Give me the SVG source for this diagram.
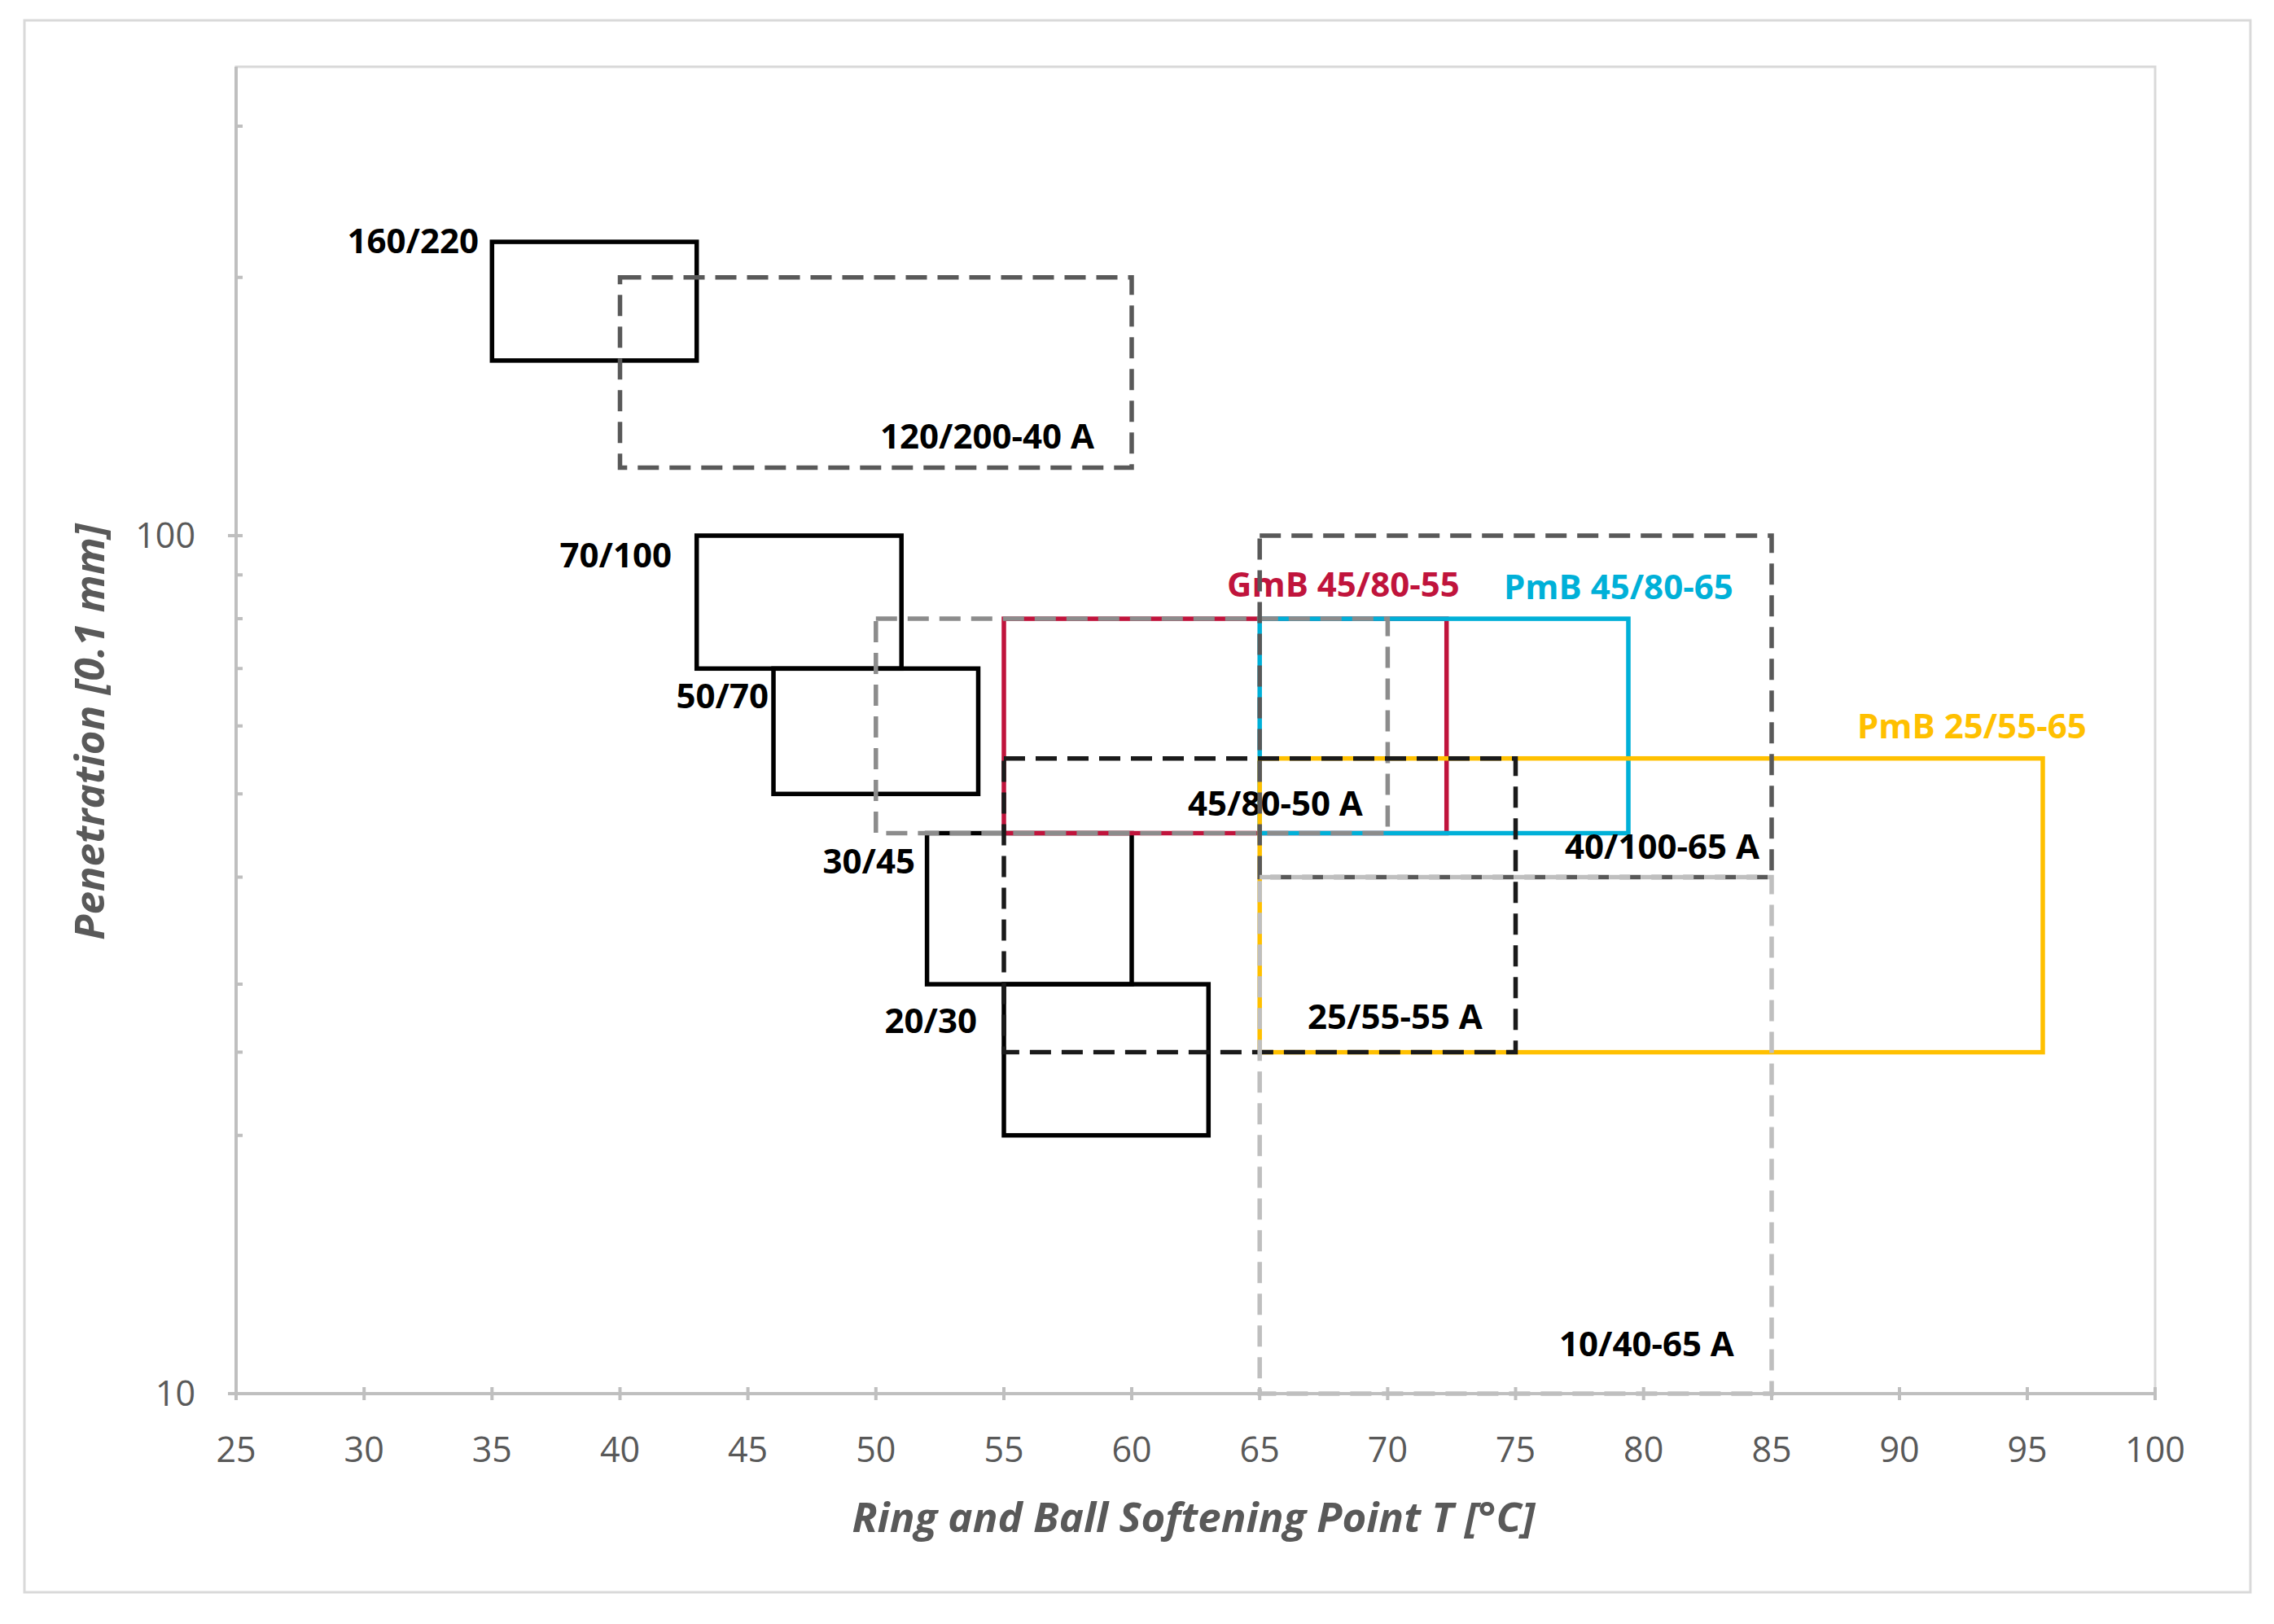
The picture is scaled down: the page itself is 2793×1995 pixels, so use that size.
<svg xmlns="http://www.w3.org/2000/svg" width="2793" height="1995" viewBox="0 0 2793 1995">
<style>
.bg{fill:#fff}
.frame{fill:none;stroke:#d9d9d9;stroke-width:3}
.axis{stroke:#bfbfbf;stroke-width:4;fill:none}
.box{fill:none;stroke-width:5.5}
.solid{stroke:#000}
.dash{stroke-dasharray:26 13}
.lbl{font-family:"Open Sans","Liberation Sans",sans-serif;font-weight:bold;font-size:42px;fill:#000}
.tick{font-family:"Open Sans","Liberation Sans",sans-serif;font-size:43px;fill:#595959}
.title{font-family:"Open Sans","Liberation Sans",sans-serif;font-size:51px;font-weight:bold;font-style:italic;fill:#595959}
</style>
<rect class="bg" width="2793" height="1995"/>
<rect class="frame" x="30" y="25" width="2734" height="1931"/>
<g id="frame-plot">
<rect x="290" y="82" width="2357" height="1630" fill="none" stroke="#d9d9d9" stroke-width="3"/>
</g>
<g id="connectors"></g>
<g id="b160-220"><rect class="box solid" x="604.3" y="297.1" width="251.4" height="145.8"/><text class="lbl" x="588" y="311" text-anchor="end">160/220</text></g>
<g id="b70-100"><rect class="box solid" x="855.7" y="658" width="251.5" height="163.3"/><text class="lbl" x="825" y="697" text-anchor="end">70/100</text></g>
<g id="b50-70"><rect class="box solid" x="950" y="821.3" width="251.5" height="154"/><text class="lbl" x="944" y="870" text-anchor="end">50/70</text></g>
<g id="b30-45"><rect class="box solid" x="1138.6" y="1023.5" width="251.4" height="185.6"/><text class="lbl" x="1124" y="1073" text-anchor="end">30/45</text></g>
<g id="b20-30"><rect class="box solid" x="1233" y="1209.1" width="251.3" height="185.6"/><text class="lbl" x="1200" y="1269" text-anchor="end">20/30</text></g>
<g id="gmb45-80-55"><rect class="box" stroke="#C0143C" x="1233" y="760.1" width="543.7" height="263.4"/><text class="lbl" x="1507" y="733" style="fill:#C0143C">GmB 45/80-55</text></g>
<g id="pmb45-80-65"><rect class="box" stroke="#00B0D8" x="1547.2" y="760.1" width="452.8" height="263.4"/><text class="lbl" x="1847" y="736" style="fill:#00B0D8">PmB 45/80-65</text></g>
<g id="pmb25-55-65"><rect class="box" stroke="#FFC000" x="1547.2" y="931.7" width="961.8" height="360.9"/><text class="lbl" x="2281" y="907" style="fill:#FFC000">PmB 25/55-65</text></g>
<g id="a120-200-40"><rect class="box dash" stroke="#595959" x="761.5" y="340.7" width="628.5" height="233.8"/><text class="lbl" x="1081" y="551">120/200-40 A</text></g>
<g id="a45-80-50"><rect class="box dash" stroke="#8c8c8c" x="1075.8" y="760.1" width="628.6" height="263.4"/><text class="lbl" x="1459" y="1002">45/80-50 A</text></g>
<g id="a40-100-65"><rect class="box dash" stroke="#595959" x="1547.2" y="658" width="628.8" height="419.4"/><text class="lbl" x="1922" y="1055">40/100-65 A</text></g>
<g id="a25-55-55"><rect class="box dash" stroke="#1a1a1a" x="1233" y="931.7" width="628.5" height="360.9"/><text class="lbl" x="1606" y="1264">25/55-55 A</text></g>
<g id="a10-40-65"><rect class="box dash" stroke="#bfbfbf" x="1547.2" y="1077.4" width="628.8" height="634.6"/><text class="lbl" x="1915" y="1666">10/40-65 A</text></g>
<g id="axes">
<path class="axis" d="M290 82V1712H2647"/>
<path class="axis" d="M280 658H298M290 1394.7h8M290 1292.6h8M290 1209.1h8M290 1077.4h8M290 975.3h8M290 891.8h8M290 821.3h8M290 760.1h8M290 706.2h8M290 340.7h8M290 155.1h8M280 1712h10"/>
<path class="axis" d="M290 1704v16M447.2 1704v16M604.3 1704v16M761.5 1704v16M918.6 1704v16M1075.8 1704v16M1233 1704v16M1390 1704v16M1547.2 1704v16M1704.4 1704v16M1861.5 1704v16M2018.7 1704v16M2176 1704v16M2333 1704v16M2490 1704v16M2647 1704v16"/>
<g class="tick" text-anchor="end"><text x="240" y="673">100</text><text x="240" y="1727">10</text></g>
<g class="tick" text-anchor="middle">
<text x="290" y="1796">25</text><text x="447.2" y="1796">30</text><text x="604.3" y="1796">35</text><text x="761.5" y="1796">40</text><text x="918.6" y="1796">45</text><text x="1075.8" y="1796">50</text><text x="1233" y="1796">55</text><text x="1390" y="1796">60</text><text x="1547.2" y="1796">65</text><text x="1704.4" y="1796">70</text><text x="1861.5" y="1796">75</text><text x="2018.7" y="1796">80</text><text x="2176" y="1796">85</text><text x="2333" y="1796">90</text><text x="2490" y="1796">95</text><text x="2647" y="1796">100</text>
</g>
<text class="title" x="1466" y="1882" text-anchor="middle">Ring and Ball Softening Point T [°C]</text>
<text class="title" transform="translate(128 899) rotate(-90)" text-anchor="middle">Penetration [0.1 mm]</text>
</g>
</svg>
